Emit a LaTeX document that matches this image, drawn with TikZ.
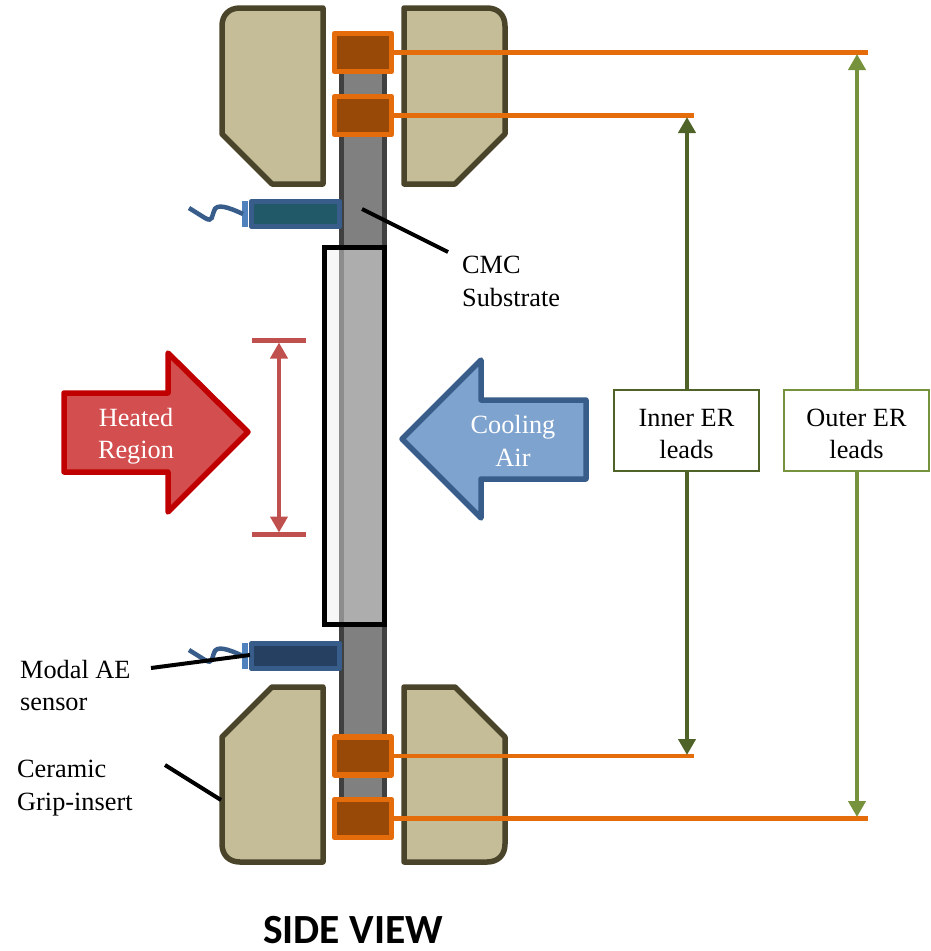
\documentclass[tikz,border=0pt]{standalone}
\usepackage{fontspec}
\setmainfont{Liberation Serif}
\newfontfamily\headfont{Carlito}
\usetikzlibrary{arrows.meta}
\definecolor{gripfill}{HTML}{C4BD97}
\definecolor{gripline}{HTML}{4A452A}
\definecolor{elecfill}{HTML}{984807}
\definecolor{elecline}{HTML}{E46C0A}
\definecolor{sensline}{HTML}{385D8A}
\definecolor{tabcol}{HTML}{4F81BD}
\definecolor{redfill}{HTML}{D34F4F}
\definecolor{redline}{HTML}{C00000}
\definecolor{dimred}{HTML}{C0504D}
\definecolor{bluefill}{HTML}{7EA3CF}
\definecolor{innergreen}{HTML}{4F6228}
\definecolor{outergreen}{HTML}{76923C}
\definecolor{sensteal}{HTML}{215968}
\definecolor{sensnavy}{HTML}{254061}
\tikzset{
  grip/.style={draw=gripline,fill=gripfill,line width=5.5pt,line join=round},
  electrode/.style={draw=elecline,fill=elecfill,line width=5.5pt,line join=round,minimum width=57pt,minimum height=38pt,inner sep=0pt,outer sep=0pt},
  sensor/.style={draw=sensline,line width=5.5pt,line join=round},
  sensorwire/.style={draw=sensline,line width=4.5pt},
  lead/.style={draw=elecline,line width=4.5pt},
  leader/.style={draw=black,line width=4pt},
  label/.style={font=\fontsize{26.3}{32.5}\selectfont,align=left,anchor=west,inner sep=0pt},
  arrowtext/.style={font=\fontsize{26.3}{32.5}\selectfont,align=center,text=white,inner sep=0pt},
  erbox/.style={draw,fill=white,line width=2pt,minimum width=145pt,minimum height=81pt,inner sep=0pt,align=center,font=\fontsize{26.3}{32.5}\selectfont},
  innerarrow/.style={draw=innergreen,line width=4.5pt,-{Triangle[length=16pt,width=17pt]}},
  outerarrow/.style={draw=outergreen,line width=4.5pt,-{Triangle[length=16pt,width=17pt]}},
  dimarrow/.style={draw=dimred,line width=4.5pt,{Triangle[length=16pt,width=17pt]}-{Triangle[length=16pt,width=17pt]}},
}
\begin{document}
\begin{tikzpicture}[x=1pt,y=-1pt]
\useasboundingbox (0,0) rectangle (930,951);
% substrate bar
\draw[draw=black!75,fill=black!50,line width=5.5pt] (341.5,52) rectangle (384.5,819);
% grips
\path[grip] (323,8) -- (240,8) .. controls (229,8) and (222,15) .. (222,26) -- (222,134) -- (272,184) -- (323,184) -- cycle;
\path[grip] (404,8) -- (487,8) .. controls (498,8) and (505,15) .. (505,26) -- (505,134) -- (455,184) -- (404,184) -- cycle;
\path[grip] (323,862) -- (240,862) .. controls (229,862) and (222,855) .. (222,844) -- (222,737) -- (272,687) -- (323,687) -- cycle;
\path[grip] (404,862) -- (487,862) .. controls (498,862) and (505,855) .. (505,844) -- (505,737) -- (455,687) -- (404,687) -- cycle;
% heated window
\fill[black!3] (324,247) rectangle (339,624);
\fill[black!45] (339,247) rectangle (344,624);
\fill[black!32] (344,247) rectangle (384,624);
\draw[black,line width=5pt,line join=miter] (324.5,247) rectangle (384.5,624);
% sensors
\path[sensor,fill=sensteal] (251.5,201.5) rectangle (339.5,226.5);
\path[sensor,fill=sensnavy] (251.5,643.5) rectangle (339.5,668.5);
\fill[tabcol] (242,201) rectangle (248,227);
\fill[tabcol] (242,643) rectangle (248,669);
\draw[sensorwire] (189,208) -- (205,218) .. controls (213,223) and (212,215) .. (214,211) .. controls (216,203) and (228,207) .. (243,214);
\draw[sensorwire] (189,650) -- (205,660) .. controls (213,665) and (212,657) .. (214,653) .. controls (216,645) and (228,649) .. (243,656);
% electrodes and leads
\coordinate (lead1end) at (868,52);
\coordinate (lead2end) at (694,115);
\coordinate (lead3end) at (694,756);
\coordinate (lead4end) at (868,819);
\node[electrode] (e1) at (363,52.5) {};
\node[electrode] (e2) at (363,115.5) {};
\node[electrode] (e3) at (363,756) {};
\node[electrode] (e4) at (363,818.5) {};
\draw[lead] (e1.east) -- (e1.east -| lead1end);
\draw[lead] (e2.east) -- (e2.east -| lead2end);
\draw[lead] (e3.east) -- (e3.east -| lead3end);
\draw[lead] (e4.east) -- (e4.east -| lead4end);
% block arrows
\draw[fill=redfill,draw=redline,line width=5.5pt,line join=round] (64,393) -- (168,393) -- (168,353) -- (248,432) -- (168,512) -- (168,472) -- (64,472) -- cycle;
\draw[fill=bluefill,draw=sensline,line width=5.5pt,line join=round] (586,400) -- (481,400) -- (481,360) -- (402,439) -- (481,518) -- (481,479) -- (586,479) -- cycle;
\node[arrowtext] (heated) at (136,436) {Heated\\Region};
\node[arrowtext] (cooling) at (513,441) {Cooling\\Air};
% heated-region dimension
\coordinate (dimtopl) at (252,340.5);
\coordinate (dimtopr) at (306,340.5);
\coordinate (dimbotl) at (252,534.5);
\coordinate (dimbotr) at (306,534.5);
\coordinate (dimtop) at (279,342.5);
\coordinate (dimbot) at (279,532.5);
\draw[draw=dimred,line width=4.5pt] (dimtopl) -- (dimtopr);
\draw[draw=dimred,line width=4.5pt] (dimbotl) -- (dimbotr);
\draw[dimarrow] (dimtop) -- (dimbot);
% ER boxes
\node[erbox,draw=innergreen] (inner) at (686.5,430.5) {\rule{0pt}{24pt}Inner ER\\leads};
\node[erbox,draw=outergreen] (outer) at (856.5,430.5) {\rule{0pt}{24pt}Outer ER\\leads};
\coordinate (innertop) at (687,117);
\coordinate (innerbot) at (687,755);
\coordinate (outertop) at (857,54);
\coordinate (outerbot) at (857,817);
\draw[innerarrow] (inner.north -| innertop) -- (innertop);
\draw[innerarrow] (inner.south -| innerbot) -- (innerbot);
\draw[outerarrow] (outer.north -| outertop) -- (outertop);
\draw[outerarrow] (outer.south -| outerbot) -- (outerbot);
% labels and leaders
\node[label] (cmc) at (462,281.5) {CMC\\Substrate};
\node[label] (modal) at (20,685.5) {Modal AE\\sensor};
\node[label] (ceramic) at (17,788) {Ceramic\\Grip-insert};
\coordinate (cmctip) at (362,209);
\coordinate (cmcfoot) at (448,252);
\coordinate (modaltip) at (250,655);
\coordinate (modalfoot) at (151,668);
\coordinate (cerfoot) at (165,765);
\coordinate (certip) at (221,800);
\draw[leader] (cmctip) -- (cmcfoot);
\draw[leader] (modalfoot) -- (modaltip);
\draw[leader] (cerfoot) -- (certip);
\node[font=\headfont\bfseries\fontsize{41.5}{44}\selectfont,inner sep=0pt] (title) at (353,930) {SIDE VIEW};
\end{tikzpicture}
\end{document}
